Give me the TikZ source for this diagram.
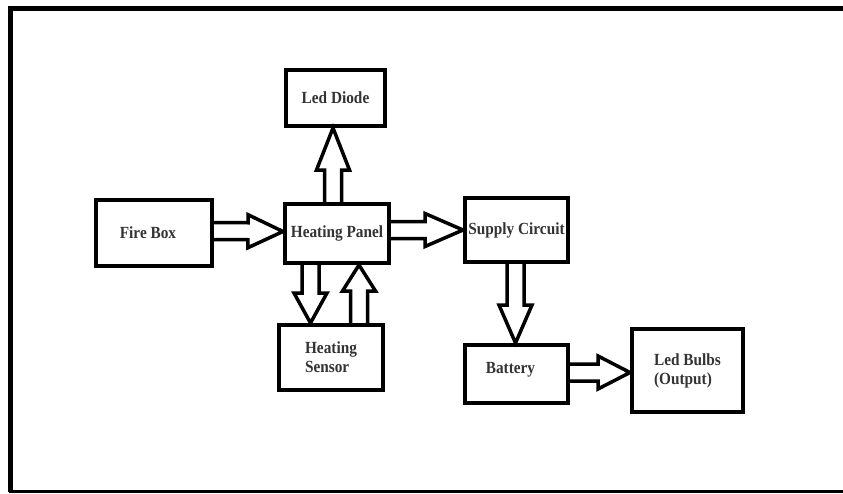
\documentclass[tikz,border=0pt]{standalone}
\usepackage{fontspec}
\setmainfont{Liberation Serif}[FakeStretch=0.9]
\usepackage{xcolor}
\usepackage{tikz}
\usetikzlibrary{calc}
\definecolor{C333333}{HTML}{333333}

% hollow block arrow from #2 to #3, head length #1
\newcommand{\blockarrow}[3][35pt]{%
\path (#2) coordinate (ta) (#3) coordinate (tb);
\path ($(tb)!#1!(ta)$) coordinate (hb);
\path [arrowline] ($(ta)!8.5pt!90:(tb)$) -- ($(hb)!8.5pt!90:(tb)$) -- ($(hb)!16.5pt!90:(tb)$) -- (tb) -- ($(hb)!16.5pt!-90:(tb)$) -- ($(hb)!8.5pt!-90:(tb)$) -- ($(ta)!8.5pt!-90:(tb)$);
}

\begin{document}
\begin{tikzpicture}[inner sep=0pt,
  box/.style={draw, line width=4pt, align=center, text=C333333, font=\bfseries\fontsize{17}{19}\selectfont},
  arrowline/.style={draw, line width=3.5pt, line join=miter}]
\useasboundingbox (0pt,0pt) rectangle (843pt,-493pt);
\draw [line width=5pt] (845pt,-8.5pt) -- (10.5pt,-8.5pt) -- (10.5pt,-491.5pt);
\draw [line width=3pt] (9pt,-491.5pt) -- (845pt,-491.5pt);
\node (n0) [box, minimum width=116pt, minimum height=66pt, at={(154pt,-233pt)}] {Fire Box\hspace*{12pt}};
\node (n1) [box, minimum width=104pt, minimum height=59pt, at={(337pt,-233.5pt)}] {Heating Panel};
\node (n2) [box, minimum width=99pt, minimum height=56pt, at={(335.5pt,-98pt)}] {Led Diode};
\node (n3) [box, minimum width=103pt, minimum height=64pt, at={(516.5pt,-230pt)}] {Supply Circuit};
\node (n4) [box, minimum width=104pt, minimum height=65pt, at={(331pt,-357.5pt)}, align=left] {Heating\\Sensor};
\node (n5) [box, minimum width=103pt, minimum height=58pt, at={(516.5pt,-374pt)}] {\raisebox{12pt}{Battery}\hspace*{12pt}};
\node (n6) [box, minimum width=111pt, minimum height=83pt, at={(687.5pt,-370.5pt)}, align=left] {Led Bulbs\\(Output)};
\blockarrow{[yshift=2pt]n0.east}{[yshift=2pt]n1.west}
\blockarrow[38pt]{n1.east |- n3.west}{n3.west}
\blockarrow[42pt]{[xshift=-4pt]n1.north}{[xshift=-2.5pt]n2.south}
\blockarrow[30pt]{[xshift=-26.5pt]n1.south}{[xshift=-20.5pt]n4.north}
\blockarrow[26pt]{[xshift=28pt]n4.north}{[xshift=22pt]n1.south}
\blockarrow[38pt]{[xshift=-1pt]n3.south}{[xshift=-1pt]n5.north}
\blockarrow[32pt]{[yshift=1.5pt]n5.east}{[yshift=-2pt]n6.west}
\end{tikzpicture}
\end{document}
